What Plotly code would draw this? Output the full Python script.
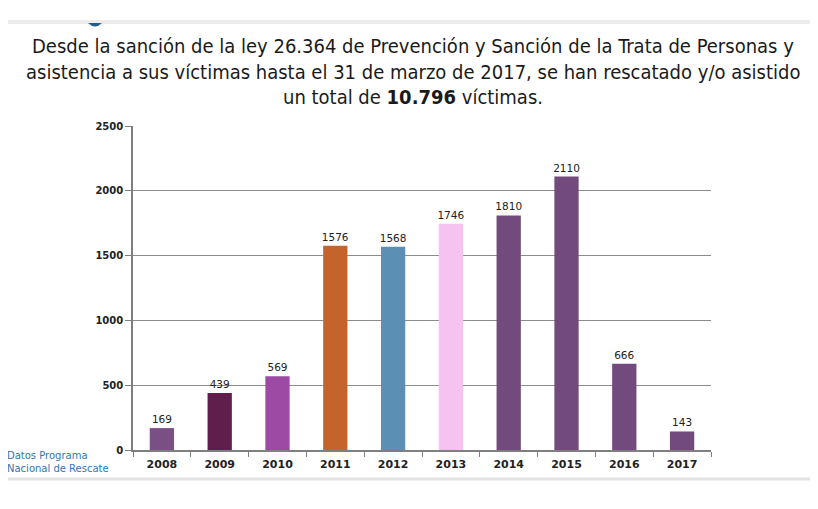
import plotly.graph_objects as go

# datos del gráfico
years = ['2008', '2009', '2010', '2011', '2012', '2013', '2014', '2015', '2016', '2017']
victims = [169, 439, 569, 1576, 1568, 1746, 1810, 2110, 666, 143]
bar_colors = ['#7a4f84', '#5f1e4b', '#9d4aa5', '#c3642c', '#5b90b4',
              '#f6c3f1', '#724a7d', '#724a7d', '#724a7d', '#724a7d']

title_lines = [
    'Desde la sanción de la ley 26.364 de Prevención y Sanción de la Trata de Personas y',
    'asistencia a sus víctimas hasta el 31 de marzo de 2017, se han rescatado y/o asistido',
    'un total de <b>10.796</b> víctimas.',
]

# the page body adds 8px, so positions below are page pixels minus 8
OFF = 8
L, R, T, B = 133 - OFF, 711 - OFF, 126 - OFF, 450 - OFF
PW, PH = R - L, B - T


def px(x):
    return (x - OFF - L) / PW


def py(y):
    return (B - (y - OFF)) / PH


fig = go.Figure(go.Bar(
    x=years,
    y=victims,
    marker=dict(color=bar_colors, line=dict(width=0)),
    width=0.42,
    text=victims,
    textposition='outside',
    constraintext='none',
    textfont=dict(family='DejaVu Sans', size=10.5, color='#222222'),
    cliponaxis=False,
))

# título en tres líneas
for i, line in enumerate(title_lines):
    fig.add_annotation(
        text=line, xref='paper', yref='paper',
        x=px(413), y=py(46 + 25.5 * i),
        xanchor='center', yanchor='middle', showarrow=False,
        font=dict(family='DejaVu Sans Condensed, sans-serif',
                  size=20, color='#1a1a1a'),
    )

fig.add_annotation(
    text='Datos Programa<br>Nacional de Rescate', xref='paper', yref='paper',
    x=px(5), y=py(462), xanchor='left', yanchor='middle',
    align='left', showarrow=False,
    font=dict(family='DejaVu Sans', size=10, color='#2e76b7'),
)

# líneas grises de arriba y abajo, y el punto azul
fig.add_shape(type='line', xref='paper', yref='paper',
              x0=px(0), x1=px(818), y0=py(22), y1=py(22),
              line=dict(color='#ececec', width=4))
fig.add_shape(type='line', xref='paper', yref='paper',
              x0=px(0), x1=px(818), y0=py(479), y1=py(479),
              line=dict(color='#e2e2e2', width=3))
fig.add_shape(type='path', xref='paper', yref='paper',
              path=f'M {px(88)} {py(23)} Q {px(95)} {py(30)} {px(102)} {py(23)} Z',
              fillcolor='#1f5f96', line=dict(width=0))

fig.update_layout(
    width=818, height=509,
    margin=dict(l=L, r=818 - R, t=T, b=509 - B),
    paper_bgcolor='white', plot_bgcolor='white',
    showlegend=False,
)
fig.update_xaxes(
    showline=True, linecolor='#7f7f7f', linewidth=1.5,
    ticks='outside', tickson='boundaries', ticklen=5, tickcolor='#7f7f7f',
    tickfont=dict(family='DejaVu Sans', size=11, color='#222222', weight='bold'),
    ticklabelstandoff=3,
    showgrid=False,
)
fig.update_yaxes(
    range=[0, 2500], dtick=500,
    showline=True, linecolor='#7f7f7f', linewidth=1.5,
    ticks='outside', ticklen=6, tickcolor='#7f7f7f',
    gridcolor='#8c8c8c', gridwidth=1.2,
    tickfont=dict(family='DejaVu Sans', size=10, color='#222222', weight='bold'),
    zeroline=False,
)

fig.write_html('out.html')
